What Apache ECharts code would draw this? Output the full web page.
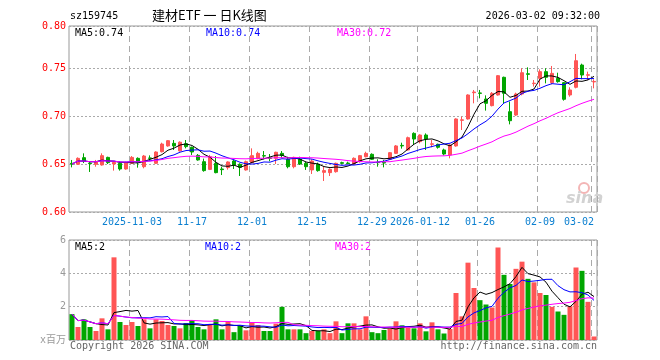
<!DOCTYPE html>
<html><head><meta charset="utf-8">
<script src="https://cdn.jsdelivr.net/npm/echarts@6/dist/echarts.min.js"></script>
<style>html,body{margin:0;padding:0;background:#fff}#c{width:660px;height:360px}</style>
</head><body><div id="c"></div>
<script>
const dates = [
'2025-10-20','2025-10-21','2025-10-22','2025-10-23','2025-10-24','2025-10-27','2025-10-28','2025-10-29','2025-10-30','2025-10-31',
'2025-11-03','2025-11-04','2025-11-05','2025-11-06','2025-11-07','2025-11-10','2025-11-11','2025-11-12','2025-11-13','2025-11-14',
'2025-11-17','2025-11-18','2025-11-19','2025-11-20','2025-11-21','2025-11-24','2025-11-25','2025-11-26','2025-11-27','2025-11-28',
'2025-12-01','2025-12-02','2025-12-03','2025-12-04','2025-12-05','2025-12-08','2025-12-09','2025-12-10','2025-12-11','2025-12-12',
'2025-12-15','2025-12-16','2025-12-17','2025-12-18','2025-12-19','2025-12-22','2025-12-23','2025-12-24','2025-12-25','2025-12-26',
'2025-12-29','2025-12-30','2025-12-31','2026-01-05','2026-01-06','2026-01-07','2026-01-08','2026-01-09',
'2026-01-12','2026-01-13','2026-01-14','2026-01-15','2026-01-16','2026-01-19','2026-01-20','2026-01-21','2026-01-22','2026-01-23',
'2026-01-26','2026-01-27','2026-01-28','2026-01-29','2026-01-30','2026-02-02','2026-02-03','2026-02-04','2026-02-05','2026-02-06',
'2026-02-09','2026-02-10','2026-02-11','2026-02-12','2026-02-13','2026-02-24','2026-02-25','2026-02-26','2026-02-27','2026-03-02'];

const opens = [
.6507,.6497,.6566,.6510,.6497,.6490,.6569,.6500,.6507,.6448,
.6507,.6559,.6472,.6563,.6507,.6628,.6688,.6715,.6637,.6711,
.6674,.6590,.6524,.6444,.6507,.6448,.6462,.6531,.6497,.6438,
.6514,.6556,.6587,.6563,.6559,.6611,.6549,.6472,.6549,.6507,
.6438,.6497,.6413,.6410,.6420,.6514,.6510,.6500,.6524,.6576,
.6601,.6517,.6517,.6549,.6611,.6694,.6646,.6819,
.6733,.6802,.6705,.6705,.6646,.6594,.6688,.6955,.6969,.7243,
.7240,.7177,.7108,.7219,.7403,.7045,.7010,.7229,.7440,.7337,
.7392,.7462,.7347,.7392,.7347,.7219,.7299,.7531,.7424,.7355];
const closes = [
.6500,.6559,.6535,.6504,.6521,.6587,.6514,.6517,.6448,.6514,
.6569,.6514,.6583,.6559,.6625,.6708,.6743,.6688,.6727,.6681,
.6625,.6542,.6431,.6576,.6410,.6441,.6521,.6490,.6465,.6524,
.6587,.6611,.6583,.6559,.6622,.6590,.6472,.6569,.6500,.6472,
.6531,.6431,.6431,.6444,.6507,.6507,.6504,.6559,.6587,.6611,
.6549,.6514,.6510,.6618,.6688,.6688,.6774,.6760,
.6802,.6760,.6710,.6674,.6604,.6698,.6969,.6960,.7219,.7250,
.7236,.7132,.7236,.7420,.7236,.6951,.7229,.7451,.7434,.7342,
.7462,.7403,.7444,.7358,.7174,.7271,.7576,.7427,.7430,.7360];
const lows = [
.6465,.6490,.6510,.6417,.6472,.6483,.6500,.6431,.6431,.6441,
.6500,.6462,.6455,.6535,.6500,.6620,.6680,.6646,.6630,.6663,
.6594,.6535,.6420,.6437,.6403,.6385,.6441,.6448,.6375,.6431,
.6507,.6549,.6549,.6528,.6500,.6563,.6455,.6455,.6490,.6438,
.6396,.6420,.6323,.6375,.6410,.6497,.6497,.6490,.6514,.6569,
.6542,.6472,.6465,.6542,.6604,.6660,.6640,.6698,
.6715,.6646,.6674,.6660,.6590,.6559,.6680,.6854,.6962,.7132,
.7184,.7056,.7100,.7212,.7125,.6913,.7000,.7215,.7375,.7306,
.7306,.7340,.7330,.7347,.7160,.7201,.7288,.7382,.7375,.7288];
const highs = [
.6542,.6569,.6611,.6528,.6542,.6611,.6576,.6524,.6524,.6524,
.6583,.6569,.6594,.6590,.6632,.6722,.6750,.6750,.6736,.6750,
.6681,.6604,.6556,.6594,.6583,.6472,.6528,.6542,.6507,.6535,
.6663,.6628,.6635,.6604,.6628,.6635,.6576,.6576,.6576,.6524,
.6549,.6514,.6472,.6455,.6514,.6524,.6524,.6569,.6594,.6628,
.6611,.6549,.6542,.6625,.6698,.6722,.6785,.6830,
.6809,.6819,.6750,.6712,.6660,.6705,.6976,.6993,.7226,.7271,
.7271,.7215,.7250,.7427,.7410,.7150,.7243,.7497,.7507,.7375,
.7486,.7497,.7521,.7451,.7354,.7299,.7646,.7545,.7462,.7382];
// volume, unit: 百万
const volumes = [
1.55,0.78,1.24,0.78,0.54,1.30,0.64,4.96,1.08,0.90,
1.08,0.84,1.24,0.70,1.24,1.14,0.90,0.84,0.70,1.02,
1.20,0.78,0.64,0.94,1.24,0.64,1.10,0.47,0.84,0.58,
1.04,0.90,0.54,0.54,0.98,1.99,0.64,0.64,0.64,0.41,
0.54,0.54,0.64,0.41,1.12,0.41,1.00,1.00,0.64,1.42,
0.47,0.41,0.60,0.68,1.12,0.88,0.74,0.70,
1.00,0.52,1.06,0.64,0.39,0.66,2.82,1.42,4.64,3.12,
2.39,2.13,1.95,5.55,3.91,3.36,4.27,4.70,3.67,3.46,
2.82,2.70,1.99,1.71,1.51,2.03,4.35,4.15,2.29,0.21];

const tickDates = ['2025-11-03','2025-11-17','2025-12-01','2025-12-15','2025-12-29','2026-01-12','2026-01-26','2026-02-09','2026-03-02'];
const tickLabels = ['2025-11-03','11-17','12-01','12-15','12-29','2026-01-12','01-26','02-09','03-02'];

const RED = '#ff5555', GREEN = '#00a600';
const MONO = '"DejaVu Sans Mono", "Noto Sans CJK SC", monospace';

function ma(arr, n) {
  return arr.map((_, i) => {
    const s = Math.max(0, i - n + 1);
    let sum = 0;
    for (let k = s; k <= i; k++) sum += arr[k];
    return +(sum / (i - s + 1)).toFixed(4);
  });
}

const candleData = dates.map((d, i) => [opens[i], closes[i], lows[i], highs[i]]);
const isTick = (i, v) => tickDates.indexOf(v) >= 0;

const dashLine = { show: true, interval: isTick, lineStyle: { color: '#aaa', type: [6, 4], width: 1 } };
const dotLine = { show: true, lineStyle: { color: '#aaa', type: [2, 2], width: 1 } };

function lineSeries(name, data, color, xi, yi) {
  return { name, type: 'line', data, xAxisIndex: xi, yAxisIndex: yi, showSymbol: false, symbol: 'none',
           silent: true, lineStyle: { color, width: 1 }, itemStyle: { color }, z: 5 };
}

function txt(text, x, y, fill, font, align) {
  return { type: 'text', silent: true, style: { text, x, y, fill, font, align: align || 'left', verticalAlign: 'middle' } };
}

const chart = echarts.init(document.getElementById('c'), null, { renderer: 'canvas' });
chart.setOption({
  animation: false,
  backgroundColor: '#fff',
  grid: [
    { left: 69, top: 26, width: 528, height: 186, show: true, borderColor: '#999', borderWidth: 1, backgroundColor: 'transparent' },
    { left: 69, top: 240, width: 528, height: 100, show: true, borderColor: '#999', borderWidth: 1, backgroundColor: 'transparent' }
  ],
  xAxis: [
    { type: 'category', data: dates, gridIndex: 0, boundaryGap: true,
      axisLine: { show: false }, axisTick: { show: false },
      axisLabel: { interval: isTick, formatter: v => tickLabels[tickDates.indexOf(v)], color: '#0a7fd0',
                   fontFamily: MONO, fontSize: 10, margin: 5, alignMaxLabel: 'right' },
      splitLine: dashLine },
    { type: 'category', data: dates, gridIndex: 1, boundaryGap: true,
      axisLine: { show: false }, axisTick: { show: false }, axisLabel: { show: false },
      splitLine: dashLine }
  ],
  yAxis: [
    { type: 'value', gridIndex: 0, min: 0.6, max: 0.79375, interval: 0.05,
      axisLine: { show: false }, axisTick: { show: false },
      axisLabel: { color: '#ff0000', fontFamily: MONO, fontSize: 10, margin: 3,
                   formatter: v => (v > 0.79 ? '0.80' : v.toFixed(2)) },
      splitLine: dotLine },
    { type: 'value', gridIndex: 1, min: 0, max: 6, interval: 2,
      axisLine: { show: false }, axisTick: { show: false },
      axisLabel: { color: '#999', fontFamily: MONO, fontSize: 10, margin: 3,
                   formatter: v => (v === 0 ? 'x百万' : String(v)) },
      splitLine: dotLine }
  ],
  series: [
    { type: 'candlestick', data: candleData, xAxisIndex: 0, yAxisIndex: 0, barWidth: 4,
      itemStyle: { color: RED, color0: GREEN, borderColor: RED, borderColor0: GREEN, borderWidth: 1 }, z: 3 },
    lineSeries('MA5', ma(closes, 5), '#000000', 0, 0),
    lineSeries('MA10', ma(closes, 10), '#0000ff', 0, 0),
    lineSeries('MA30', ma(closes, 30), '#ff00ff', 0, 0),
    { type: 'bar', data: volumes, xAxisIndex: 1, yAxisIndex: 1, barWidth: 5, z: 3,
      itemStyle: { color: p => (closes[p.dataIndex] >= opens[p.dataIndex] ? RED : GREEN) } },
    lineSeries('VMA5', ma(volumes, 5), '#000000', 1, 1),
    lineSeries('VMA10', ma(volumes, 10), '#0000ff', 1, 1),
    lineSeries('VMA30', ma(volumes, 30), '#ff00ff', 1, 1)
  ],
  graphic: [
    txt('sz159745', 70, 16, '#000', '10px ' + MONO),
    txt('建材ETF 一 日K线图', 152, 15, '#000', '13px "Noto Sans CJK SC"'),
    txt('2026-03-02 09:32:00', 600, 16, '#000', '10px ' + MONO, 'right'),
    txt('MA5:0.74', 75, 33, '#000', '10px ' + MONO),
    txt('MA10:0.74', 206, 33, '#0000ff', '10px ' + MONO),
    txt('MA30:0.72', 337, 33, '#ff00ff', '10px ' + MONO),
    txt('MA5:2', 75, 247, '#000', '10px ' + MONO),
    txt('MA10:2', 205, 247, '#0000ff', '10px ' + MONO),
    txt('MA30:2', 335, 247, '#ff00ff', '10px ' + MONO),
    txt('Copyright 2026 SINA.COM', 70, 346, '#666', '10px ' + MONO),
    txt('http://finance.sina.com.cn', 597, 346, '#666', '10px ' + MONO, 'right'),
    { type: 'circle', silent: true, shape: { cx: 584, cy: 188, r: 5 }, style: { fill: 'none', stroke: '#f3b5b5', lineWidth: 2 } },
    txt('sina', 566, 199, '#d2d2d2', 'italic bold 16px "DejaVu Sans"')
  ]
});
</script>
</body></html>
